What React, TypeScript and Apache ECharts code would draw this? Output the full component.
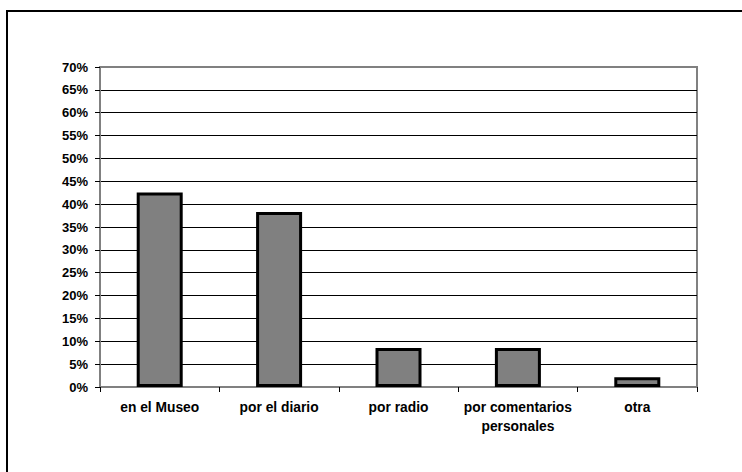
import React, { useEffect, useRef } from "react";
import * as echarts from "echarts";

const categories = ["en el Museo", "por el diario", "por radio", "por comentarios\npersonales", "otra"];
const values = [42.55, 38.3, 8.51, 8.51, 2.13];
const yTicks = { min: 0, max: 70, interval: 5 };

export default function App() {
  const ref = useRef<HTMLDivElement>(null);
  useEffect(() => {
    if (!ref.current) return;
    const chart = echarts.init(ref.current, null, { renderer: "svg" });
    const font = { fontFamily: "Liberation Sans, Arial, sans-serif", fontWeight: "bold" as const, color: "#000" };
    chart.setOption({
      animation: false,
      backgroundColor: "#fff",
      grid: {
        left: 100,
        right: 45,
        top: 67,
        bottom: 85,
        show: true,
        borderColor: "#808080",
        borderWidth: 2,
      },
      graphic: [
        {
          type: "rect",
          shape: { x: 7, y: 11, width: 800, height: 600 },
          style: { fill: "none", stroke: "#000", lineWidth: 2 },
          silent: true,
        },
      ],
      xAxis: {
        type: "category",
        data: categories,
        axisLine: { lineStyle: { color: "#808080", width: 2 } },
        axisTick: { show: true, length: 5, lineStyle: { color: "#000", width: 1 } },
        axisLabel: { ...font, fontSize: 13.8, margin: 11, lineHeight: 19, interval: 0 },
        splitLine: { show: false },
      },
      yAxis: {
        type: "value",
        min: yTicks.min,
        max: yTicks.max,
        interval: yTicks.interval,
        axisLine: { show: true, lineStyle: { color: "#808080", width: 2 } },
        axisTick: { show: true, length: 5, lineStyle: { color: "#000", width: 1 } },
        axisLabel: { ...font, fontSize: 13, margin: 12, formatter: "{value}%" },
        splitLine: { show: true, showMinLine: false, showMaxLine: false, lineStyle: { color: "#000", width: 1 } },
      },
      series: [
        {
          type: "bar",
          data: values,
          barWidth: 46,
          itemStyle: { color: "#808080", borderColor: "#000", borderWidth: 3 },
        },
      ],
    });
    return () => chart.dispose();
  }, []);
  return (
    <div
      ref={ref}
      style={{ position: "fixed", left: 0, top: 0, width: 742, height: 472, background: "#fff" }}
    />
  );
}
